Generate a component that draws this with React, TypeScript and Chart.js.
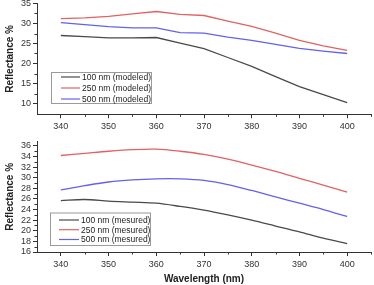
import { useEffect, useRef } from "react";
import { Chart, registerables } from "chart.js";

Chart.register(...registerables);

// ---------- data ----------
const wavelengths = [340, 345, 350, 355, 360, 365, 370, 375, 380, 385, 390, 395, 400];

const modeled100 = [27.0, 26.7, 26.4, 26.4, 26.5, 25.1, 23.7, 21.5, 19.3, 16.7, 14.2, 12.2, 10.2];
const modeled250 = [31.2, 31.4, 31.8, 32.4, 33.0, 32.3, 32.0, 30.6, 29.3, 27.6, 25.8, 24.4, 23.3];
const modeled500 = [30.2, 29.7, 29.2, 28.9, 28.9, 27.7, 27.6, 26.6, 25.8, 24.8, 23.8, 23.1, 22.5];

const measured100 = [25.7, 25.9, 25.6, 25.4, 25.2, 24.6, 23.9, 23.0, 22.0, 20.9, 19.8, 18.6, 17.6];
const measured250 = [34.2, 34.6, 35.0, 35.3, 35.4, 35.0, 34.4, 33.5, 32.4, 31.2, 29.9, 28.6, 27.3];
const measured500 = [27.7, 28.5, 29.2, 29.6, 29.8, 29.8, 29.5, 28.7, 27.6, 26.4, 25.2, 24.0, 22.7];

const topLabels = ["100 nm (modeled)", "250 nm (modeled)", "500 nm (modeled)"];
const bottomLabels = ["100 nm (mesured)", "250 nm (mesured)", "500 nm (mesured)"];

const xTicks = [340, 350, 360, 370, 380, 390, 400];
const xMinorTicks = [345, 355, 365, 375, 385, 395, 405];
const topYTicks = [10, 15, 20, 25, 30, 35];
const topYMinorTicks = [12.5, 17.5, 22.5, 27.5, 32.5];
const bottomYTicks = [16, 18, 20, 22, 24, 26, 28, 30, 32, 34, 36];
const bottomYMinorTicks = [17, 19, 21, 23, 25, 27, 29, 31, 33, 35];

const xTitle = "Wavelength (nm)";
const yTitle = "Reflectance %";

const colors = ["#4a4a4a", "#e26262", "#6262ee"];
const FONT = "'Liberation Sans', Arial, sans-serif";
const AXIS = "#333333";

// ---------- plugins ----------
const minorTicksPlugin = {
  id: "minorTicks",
  afterDraw(chart: any, _args: any, opts: any) {
    const { ctx } = chart;
    const xs = chart.scales.x;
    const ys = chart.scales.y;
    ctx.save();
    ctx.strokeStyle = AXIS;
    ctx.lineWidth = 1;
    ctx.beginPath();
    (opts.x || []).forEach((v: number) => {
      const px = Math.round(xs.getPixelForValue(v)) + 0.5;
      ctx.moveTo(px, ys.bottom);
      ctx.lineTo(px, ys.bottom + 2.5);
    });
    (opts.y || []).forEach((v: number) => {
      const py = Math.round(ys.getPixelForValue(v)) + 0.5;
      ctx.moveTo(xs.left, py);
      ctx.lineTo(xs.left - 2.5, py);
    });
    ctx.stroke();
    ctx.restore();
  },
};

const boxLegendPlugin = {
  id: "boxLegend",
  afterDraw(chart: any, _args: any, opts: any) {
    const { ctx } = chart;
    const { x, y, w, h, rows, lineX0, lineX1, textX } = opts;
    ctx.save();
    ctx.fillStyle = "#ffffff";
    ctx.fillRect(x, y, w, h);
    ctx.strokeStyle = "#9a9a9a";
    ctx.lineWidth = 1;
    ctx.strokeRect(x + 0.5, y + 0.5, w, h);
    ctx.font = `8.5px ${FONT}`;
    ctx.textBaseline = "middle";
    chart.data.datasets.forEach((ds: any, i: number) => {
      const ry = rows[i];
      ctx.strokeStyle = ds.borderColor;
      ctx.lineWidth = 1.2;
      ctx.beginPath();
      ctx.moveTo(lineX0, ry);
      ctx.lineTo(lineX1, ry);
      ctx.stroke();
      ctx.fillStyle = "#222222";
      ctx.fillText(ds.label, textX, ry + 0.5);
    });
    ctx.restore();
  },
};

// ---------- chart factory ----------
function buildConfig(opts: {
  labels: string[];
  series: number[][];
  yMin: number;
  yMax: number;
  yTicks: number[];
  yMinor: number[];
  padTop: number;
  xHeight: number;
  showXTitle: boolean;
  tension: number;
  legend: any;
}): any {
  const datasets = opts.series.map((s, i) => ({
    label: opts.labels[i],
    data: wavelengths.map((w, j) => ({ x: w, y: s[j] })),
    borderColor: colors[i],
    backgroundColor: colors[i],
    borderWidth: 1.3,
    pointRadius: 0,
    tension: opts.tension,
    fill: false,
  }));
  return {
    type: "line",
    data: { datasets },
    plugins: [minorTicksPlugin, boxLegendPlugin],
    options: {
      responsive: false,
      animation: false,
      devicePixelRatio: 1,
      layout: { padding: { top: opts.padTop, right: 3, left: 0, bottom: 0 } },
      plugins: {
        legend: { display: false },
        tooltip: { enabled: false },
        minorTicks: { x: xMinorTicks, y: opts.yMinor },
        boxLegend: opts.legend,
      },
      scales: {
        x: {
          type: "linear",
          min: 335,
          max: 405,
          afterBuildTicks: (s: any) => {
            s.ticks = xTicks.map((v) => ({ value: v }));
          },
          afterFit: (s: any) => {
            s.height = opts.xHeight;
            s.paddingLeft = 0;
            s.paddingRight = 0;
          },
          border: { display: true, color: AXIS, width: 1 },
          grid: { drawOnChartArea: false, drawTicks: true, tickLength: 4, color: AXIS },
          ticks: {
            font: { family: FONT, size: 9 },
            color: "#333333",
            padding: 3,
            maxRotation: 0,
            autoSkip: false,
          },
          title: {
            display: opts.showXTitle,
            text: xTitle,
            font: { family: FONT, size: 10, weight: "bold" },
            color: "#222222",
            padding: { top: 0, bottom: 0 },
          },
        },
        y: {
          type: "linear",
          min: opts.yMin,
          max: opts.yMax,
          afterBuildTicks: (s: any) => {
            s.ticks = opts.yTicks.map((v) => ({ value: v }));
          },
          afterFit: (s: any) => {
            s.width = 37;
            s.paddingTop = 0;
            s.paddingBottom = 0;
          },
          border: { display: true, color: AXIS, width: 1 },
          grid: { drawOnChartArea: false, drawTicks: true, tickLength: 4, color: AXIS },
          ticks: {
            font: { family: FONT, size: 9 },
            color: "#333333",
            padding: 2,
            autoSkip: false,
          },
          title: {
            display: true,
            text: yTitle,
            font: { family: FONT, size: 10, weight: "bold" },
            color: "#222222",
            padding: { top: 4, bottom: 0 },
          },
        },
      },
    },
  };
}

export default function App() {
  const topRef = useRef<HTMLCanvasElement | null>(null);
  const bottomRef = useRef<HTMLCanvasElement | null>(null);

  useEffect(() => {
    const top = new Chart(
      topRef.current as HTMLCanvasElement,
      buildConfig({
        labels: topLabels,
        series: [modeled100, modeled250, modeled500],
        yMin: 7.3,
        yMax: 35,
        yTicks: topYTicks,
        yMinor: topYMinorTicks,
        padTop: 3.5,
        xHeight: 25.7,
        showXTitle: false,
        tension: 0,
        legend: {
          x: 51,
          y: 72,
          w: 100,
          h: 31,
          rows: [77, 88, 99],
          lineX0: 61,
          lineX1: 80,
          textX: 82,
        },
      })
    );
    const bottom = new Chart(
      bottomRef.current as HTMLCanvasElement,
      buildConfig({
        labels: bottomLabels,
        series: [measured100, measured250, measured500],
        yMin: 16,
        yMax: 36.8,
        yTicks: bottomYTicks,
        yMinor: bottomYMinorTicks,
        padTop: 1.7,
        xHeight: 33,
        showXTitle: true,
        tension: 0.3,
        legend: {
          x: 50,
          y: 72.5,
          w: 100,
          h: 32.5,
          rows: [80, 89.7, 99.5],
          lineX0: 59,
          lineX1: 79,
          textX: 81,
        },
      })
    );
    return () => {
      top.destroy();
      bottom.destroy();
    };
  }, []);

  return (
    <div
      style={{
        position: "fixed",
        left: 0,
        top: 0,
        width: 374,
        height: 285,
        background: "#ffffff",
      }}
    >
      <canvas
        ref={topRef}
        width={374}
        height={140}
        style={{ position: "absolute", left: 0, top: 0, width: 374, height: 140 }}
      />
      <canvas
        ref={bottomRef}
        width={374}
        height={145}
        style={{ position: "absolute", left: 0, top: 140, width: 374, height: 145 }}
      />
    </div>
  );
}
